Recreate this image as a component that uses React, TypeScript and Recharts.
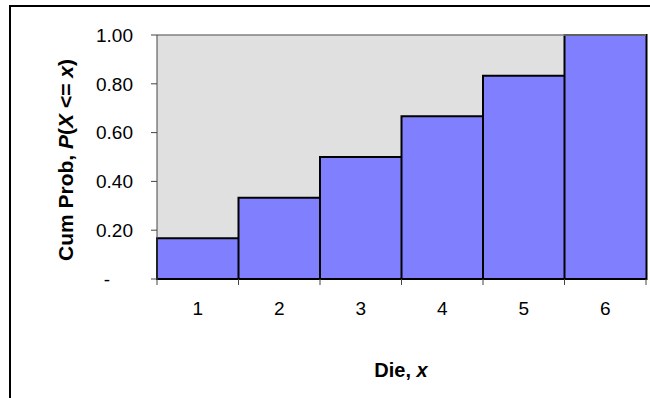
import { BarChart, Bar, XAxis, YAxis, CartesianGrid, ReferenceLine } from "recharts";

// cumulative distribution of a fair die
const faces = ["1", "2", "3", "4", "5", "6"];
const cumProb = [0.167, 0.333, 0.5, 0.667, 0.833, 1.0];
const yTicks = [0, 0.2, 0.4, 0.6, 0.8, 1.0];

const data = faces.map((face, i) => ({ face, p: cumProb[i] }));

const FONT = '"Liberation Sans", Arial, sans-serif';
const AXIS_Y = 279;

// Excel accounting style: zero shows as a dash
function YTick(props: any) {
    const { x, y, payload } = props;
    const v = payload.value as number;
    if (v === 0) {
        return (
            <text x={x - 23} y={y} dy="0.355em" textAnchor="end" fontFamily={FONT} fontSize={19} fill="#000">
                -
            </text>
        );
    }
    return (
        <text x={x} y={y} dy="0.355em" textAnchor="end" fontFamily={FONT} fontSize={19} fill="#000">
            {v.toFixed(2)}
        </text>
    );
}

// label at band centre, tick marks at the band edges
function XTick(props: any) {
    const { x, y, payload, index, visibleTicksCount } = props;
    const half = payload.offset ?? 40.75;
    const last = index === (visibleTicksCount ?? faces.length) - 1;
    return (
        <g>
            <line x1={x - half} x2={x - half} y1={AXIS_Y} y2={AXIS_Y + 6} stroke="#444" />
            {last && <line x1={x + half} x2={x + half} y1={AXIS_Y} y2={AXIS_Y + 6} stroke="#444" />}
            <text x={x} y={y} dy="0.71em" textAnchor="middle" fontFamily={FONT} fontSize={19} fill="#000">
                {payload.value}
            </text>
        </g>
    );
}

function YLabel() {
    const cx = 65;
    const cy = 160;
    return (
        <text
            x={cx}
            y={cy}
            transform={`rotate(-90, ${cx}, ${cy})`}
            textAnchor="middle"
            dominantBaseline="central"
            fontFamily={FONT}
            fontSize={21}
            fontWeight="bold"
            fill="#000"
        >
            Cum Prob, <tspan fontStyle="italic">P</tspan>(<tspan fontStyle="italic">X</tspan> &lt;={" "}
            <tspan fontStyle="italic">x</tspan>)
        </text>
    );
}

function XLabel() {
    return (
        <text x={401} y={370} textAnchor="middle" dominantBaseline="central" fontFamily={FONT} fontSize={20} fontWeight="bold" fill="#000">
            Die, <tspan fontStyle="italic">x</tspan>
        </text>
    );
}

export default function App() {
    return (
        <div style={{ position: "absolute", left: 0, top: 0, width: 650, height: 398, overflow: "hidden", background: "#fff" }}>
            <div
                style={{
                    position: "absolute",
                    left: 9,
                    top: 5,
                    width: 700,
                    height: 450,
                    border: "2px solid #000",
                    boxSizing: "border-box",
                }}
            />
            <div style={{ position: "absolute", left: 0, top: 0 }}>
                <BarChart
                    width={650}
                    height={398}
                    data={data}
                    margin={{ top: 35, right: 4, bottom: 19, left: 57 }}
                    barCategoryGap={0}
                    barGap={0}
                >
                    <CartesianGrid fill="#E0E0E0" horizontal={false} vertical={false} />
                    <ReferenceLine y={1} stroke="#808080" strokeWidth={1.5} />
                    <XAxis
                        dataKey="face"
                        height={100}
                        tickLine={false}
                        tickSize={6}
                        tickMargin={17}
                        axisLine={{ stroke: "#000", strokeWidth: 1.5 }}
                        tick={<XTick />}
                        interval={0}
                        label={<XLabel />}
                    />
                    <YAxis
                        width={100}
                        domain={[0, 1]}
                        ticks={yTicks}
                        tickSize={6}
                        tickMargin={18}
                        tickLine={{ stroke: "#444" }}
                        axisLine={{ stroke: "#444" }}
                        tick={<YTick />}
                        interval={0}
                        label={<YLabel />}
                    />
                    <Bar dataKey="p" fill="#8080FF" stroke="#000" strokeWidth={2} isAnimationActive={false} />
                </BarChart>
            </div>
        </div>
    );
}
